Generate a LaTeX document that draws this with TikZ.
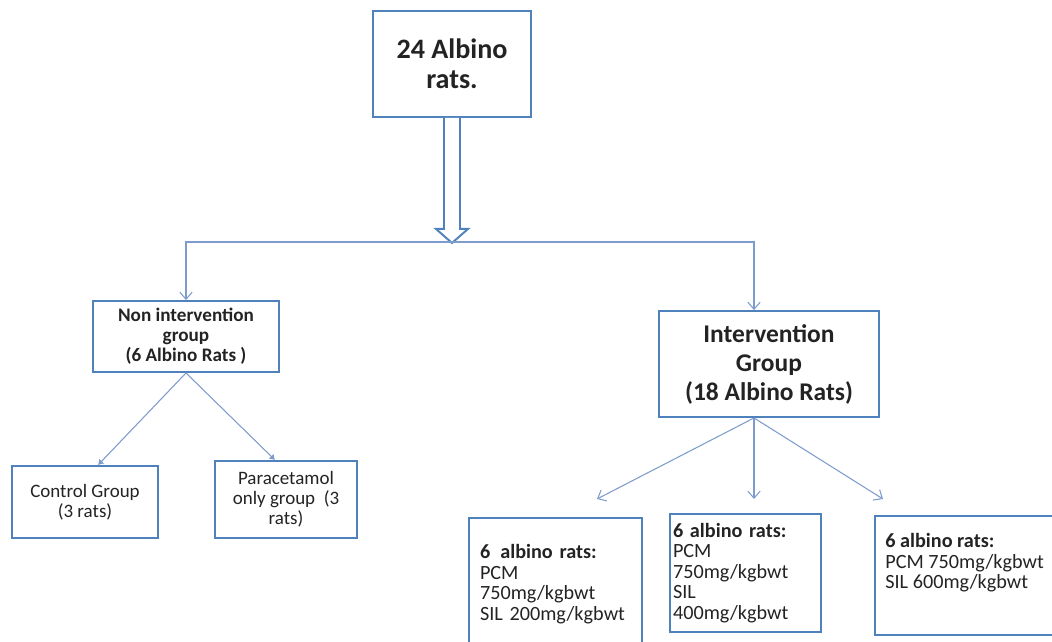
\documentclass[tikz,border=0pt]{standalone}
\usepackage{fontspec}
\setmainfont{Carlito}
\usepackage{tikz}
\usetikzlibrary{positioning,calc,arrows.meta}

\definecolor{boxblue}{RGB}{79,129,189}
\definecolor{linkblue}{RGB}{125,155,205}
\definecolor{inkgray}{RGB}{35,35,35}

\tikzset{
  box/.style={draw=boxblue, line width=1.1pt, align=center, text=inkgray, inner sep=1pt},
  rootbox/.style={box, font=\bfseries\fontsize{16}{17}\selectfont},
  nibox/.style={box, font=\bfseries\fontsize{10.9}{11.5}\selectfont},
  groupbox/.style={box, font=\bfseries\fontsize{14.5}{16.5}\selectfont},
  subbox/.style={box, font=\fontsize{10.8}{11.4}\selectfont},
  leafbox/.style={box, align=left, font=\fontsize{11.5}{11.7}\selectfont},
  leaftext/.style={align=left, text=inkgray, inner sep=0pt, font=\fontsize{11.5}{11.7}\selectfont},
  link/.style={draw=linkblue, line width=0.6pt},
  barb/.style={link, -{Straight Barb[length=4pt,width=7pt]}},
  dart/.style={link, -{Latex[length=3pt,width=4pt]}},
}

\begin{document}
\begin{tikzpicture}[x=0.02cm, y=-0.02cm]
    \useasboundingbox (0,0) rectangle (1052,642);
    \clip (0,0) rectangle (1052,642);

    % Root
    \node[rootbox, minimum width=3.16cm, minimum height=2.12cm] (rats24) at (452,64) {24 Albino\\rats.};
    \draw[boxblue, line width=1.1pt, fill=white, line join=miter]
        (rats24.south) ++(-8,0) -- ++(0,111) -- ++(-8,0) -- ++(16,14) -- ++(16,-14) -- ++(-8,0) -- ++(0,-111);

    % Split into two groups
    \coordinate (lturn) at (186,242);
    \coordinate (rturn) at (754,242);
    \node[nibox, minimum width=3.72cm, minimum height=1.42cm] (nonint) at (186,336.5) {Non intervention\\group\\(6 Albino Rats )};
    \node[groupbox, minimum width=4.4cm, minimum height=2.12cm] (inter) at (769,364) {Intervention\\Group\\(18 Albino Rats)};
    \draw[link, {Straight Barb[length=4pt,width=7pt]}-{Straight Barb[length=4pt,width=7pt]}]
        (nonint.north) -- (lturn) -- (rturn) -- (rturn |- inter.north);

    % Non intervention branch
    \node[subbox, minimum width=2.92cm, minimum height=1.44cm] (control) at (85,502) {Control Group\\(3 rats)};
    \node[subbox, minimum width=2.84cm, minimum height=1.54cm] (paracet) at (286,499.5) {Paracetamol\\only group~ (3\\rats)};
    \draw[dart] (nonint.south) -- ([xshift=0.26cm]control.north);
    \draw[dart] (nonint.south) -- ([xshift=-0.22cm]paracet.north);

    % Intervention branch
    \coordinate (iapex) at ([xshift=-0.3cm]inter.south);
    \coordinate (tip1) at (597,499);
    \coordinate (tip2) at (iapex |- tip1);
    \coordinate (tip3) at (883,499);
    \foreach \t in {tip1,tip2,tip3}
        \draw[barb] (iapex) -- (\t);

    \node[leafbox, text width=3.02cm, inner xsep=0.22cm, minimum height=2.64cm] (g1) at (555.5,584)
        {\textbf{6\enspace albino rats:}\\PCM\\750mg/kgbwt\\SIL 200mg/kgbwt};
    \node[leafbox, text width=2.9cm, inner xsep=0.06cm, minimum height=2.36cm] (g2) at (745.5,573)
        {\textbf{6 albino rats:}\\PCM\\750mg/kgbwt\\SIL\\400mg/kgbwt};
    \node[box, minimum width=4.1cm, minimum height=2.38cm] (g3) at (977.5,575.5) {};
    \node[leaftext, anchor=north west] (g3txt) at (885,533)
        {\textbf{6 albino rats:}\\PCM 750mg/kgbwt\\SIL 600mg/kgbwt};
\end{tikzpicture}
\end{document}
